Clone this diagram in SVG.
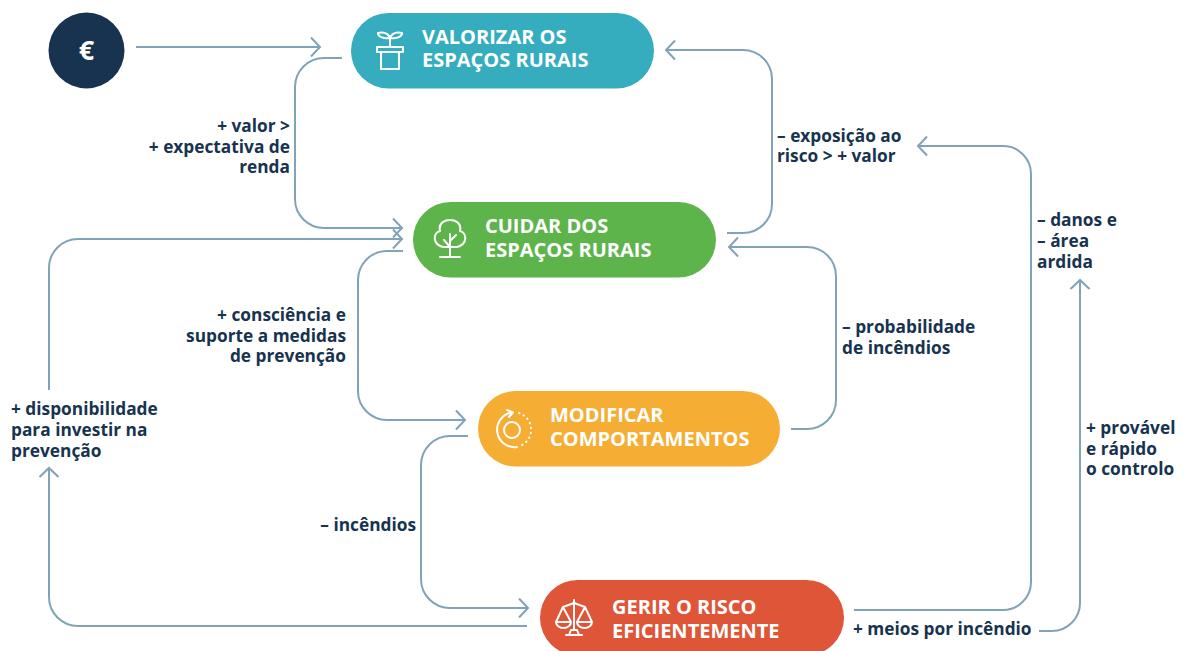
<svg xmlns="http://www.w3.org/2000/svg" width="1184" height="651" viewBox="0 0 1184 651">
<style>
text{font-family:"Open Sans","Noto Sans","Liberation Sans",sans-serif;font-weight:700}
.n{font-size:20px;fill:#fff}
.l{font-size:17.300px;fill:#17334f}
.e{text-anchor:end}
.c{fill:none;stroke:#80a3b8;stroke-width:2}
.i{fill:none;stroke:#fff;stroke-width:2;stroke-linecap:round;stroke-linejoin:round}
</style>
<defs>
<marker id="a" markerUnits="userSpaceOnUse" markerWidth="24" markerHeight="24" refX="19" refY="12" orient="auto"><path d="M10 2.500L19 12L10 21.500" fill="none" stroke="#80a3b8" stroke-width="2"/></marker>
</defs>
<rect width="1184" height="651" fill="#fff"/>
<g id="connectors">
<path class="c" marker-end="url(#a)" d="M136 47H320"/>
<path class="c" marker-end="url(#a)" d="M342 58H324A29 29 0 0 0 295 87V199A29 29 0 0 0 324 228H402"/>
<path class="c" marker-end="url(#a)" d="M727 233H743A29 29 0 0 0 772 204V79A29 29 0 0 0 743 50H666"/>
<path class="c" marker-end="url(#a)" d="M403 251H387A29 29 0 0 0 358 280V391A29 29 0 0 0 387 420H465"/>
<path class="c" marker-end="url(#a)" d="M791 429H807A29 29 0 0 0 836 400V276A29 29 0 0 0 807 247H729"/>
<path class="c" marker-end="url(#a)" d="M468 436H450A29 29 0 0 0 421 465V579A29 29 0 0 0 450 608H528"/>
<path class="c" marker-end="url(#a)" d="M527 626H78A29 29 0 0 1 49 597V468"/>
<path class="c" marker-end="url(#a)" d="M49 390V268A29 29 0 0 1 78 239H402"/>
<path class="c" marker-end="url(#a)" d="M854 610H1003A28 28 0 0 0 1031 582V174A28 28 0 0 0 1003 146H918"/>
<path class="c" marker-end="url(#a)" d="M1039 631H1052A28 28 0 0 0 1080 603V280"/>
</g>
<g id="node-euro">
<circle cx="86.500" cy="50.500" r="38" fill="#17334f"/>
<text x="86.500" y="59.500" font-size="27" fill="#fff" text-anchor="middle">€</text>
</g>
<g id="node-valorizar">
<rect x="351" y="13" width="303" height="75.500" rx="37.700" fill="#35adbe"/>
<path class="i" d="M377 47H403V52H377ZM381 52V69H399V52M390 47V36M390 38C388 33 383 32 378 33C378 37 384 39 390 38C392 33 397 32 402 33C402 37 396 39 390 38"/>
<text class="n"><tspan x="422" y="44">VALORIZAR OS</tspan><tspan x="422" y="67">ESPAÇOS RURAIS</tspan></text>
</g>
<g id="node-cuidar">
<rect x="413" y="202" width="303" height="75.500" rx="37.700" fill="#5cb44b"/>
<path class="i" d="M450 234V257M440 257H460M450 247L444 240M450 241L456 235M443 247C432 244 433 233 440 231C438 222 446 220 450 220C454 220 462 222 460 231C467 233 468 244 457 247H443"/>
<text class="n"><tspan x="485" y="233">CUIDAR DOS</tspan><tspan x="485" y="257">ESPAÇOS RURAIS</tspan></text>
</g>
<g id="node-modificar">
<rect x="478" y="391" width="302" height="75.500" rx="37.700" fill="#f6ad33"/>
<circle class="i" cx="512" cy="430" r="8"/>
<path class="i" d="M512 412.500A17 17 0 0 0 517 447M507 410L513 412.500L509 417"/>
<path class="i" stroke-dasharray="0.500 4.500" d="M519 413A17.500 17.500 0 0 1 522 445"/>
<text class="n"><tspan x="550" y="422">MODIFICAR</tspan><tspan x="550" y="446">COMPORTAMENTOS</tspan></text>
</g>
<g id="node-gerir">
<rect x="540" y="580" width="304" height="75.500" rx="37.700" fill="#de5538"/>
<path class="i" d="M574 600V630M566 635H582M569 635L571 630H577L579 635M574 603L563 607L556 622H571L563 607M574 603L585 607L577 622H592L585 607M556 622A7.500 6 0 0 0 571 622M577 622A7.500 6 0 0 0 592 622"/>
<text class="n"><tspan x="612" y="614">GERIR O RISCO</tspan><tspan x="612" y="638">EFICIENTEMENTE</tspan></text>
</g>
<g id="labels">
<text class="l e"><tspan x="290" y="132">+ valor &gt;</tspan><tspan x="290" y="153">+ expectativa de</tspan><tspan x="290" y="173">renda</tspan></text>
<text class="l"><tspan x="777" y="142">– exposição ao</tspan><tspan x="777" y="162">risco &gt; + valor</tspan></text>
<text class="l"><tspan x="1037" y="226">– danos e</tspan><tspan x="1037" y="247">– área</tspan><tspan x="1037" y="268">ardida</tspan></text>
<text class="l e"><tspan x="346" y="321">+ consciência e</tspan><tspan x="346" y="342">suporte a medidas</tspan><tspan x="346" y="362">de prevenção</tspan></text>
<text class="l"><tspan x="842" y="333">– probabilidade</tspan><tspan x="842" y="354">de incêndios</tspan></text>
<text class="l"><tspan x="11" y="415">+ disponibilidade</tspan><tspan x="11" y="436">para investir na</tspan><tspan x="11" y="457">prevenção</tspan></text>
<text class="l"><tspan x="1086" y="434">+ provável</tspan><tspan x="1086" y="455">e rápido</tspan><tspan x="1086" y="475">o controlo</tspan></text>
<text class="l e" x="416" y="531">– incêndios</text>
<text class="l" x="853" y="635">+ meios por incêndio</text>
</g>
</svg>
